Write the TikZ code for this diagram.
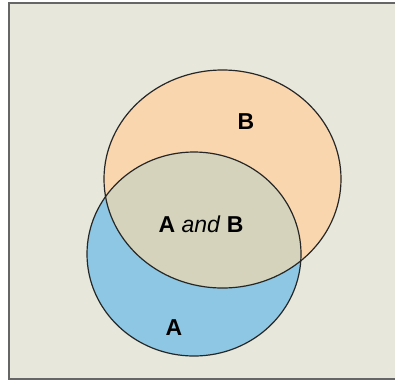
\documentclass[tikz,border=0pt]{standalone}
\usepackage{fontspec}
\setmainfont{Liberation Sans}
\definecolor{bg}{HTML}{E7E8DB}
\definecolor{fillA}{HTML}{8DC7E3}
\definecolor{fillB}{HTML}{FAD6AF}
\definecolor{fillAB}{HTML}{D5D3BB}
\definecolor{frame}{HTML}{666666}
\tikzset{
  outline/.style={draw=black!85, line width=1.2pt},
  lbl/.style={font=\fontsize{23}{27}\selectfont\bfseries, inner sep=0pt},
}
\begin{document}
\begin{tikzpicture}[x=1pt,y=-1pt]
\useasboundingbox (0,0) rectangle (395,381);
\fill[white] (0,0) rectangle (395,381);
\fill[bg] (9,3) rectangle (395,379);
\draw[frame, line width=1.5pt] (395,3) -- (9,3) -- (9,379) -- (395,379);
\def\Acirc{(194,254) ellipse [x radius=107, y radius=102]}
\def\Bcirc{(222.5,179) ellipse [x radius=118.5, y radius=109]}
\fill[fillA] \Acirc;
\fill[fillB] \Bcirc;
\begin{scope}
  \clip \Acirc;
  \fill[fillAB] \Bcirc;
\end{scope}
\path[outline] \Acirc;
\path[outline] \Bcirc;
\node[lbl] (b) at (246,122) {B};
\node[lbl] (ab) at (201,224) {A \textmd{\itshape and} B};
\node[lbl] (a) at (174,328) {A};
\end{tikzpicture}
\end{document}
